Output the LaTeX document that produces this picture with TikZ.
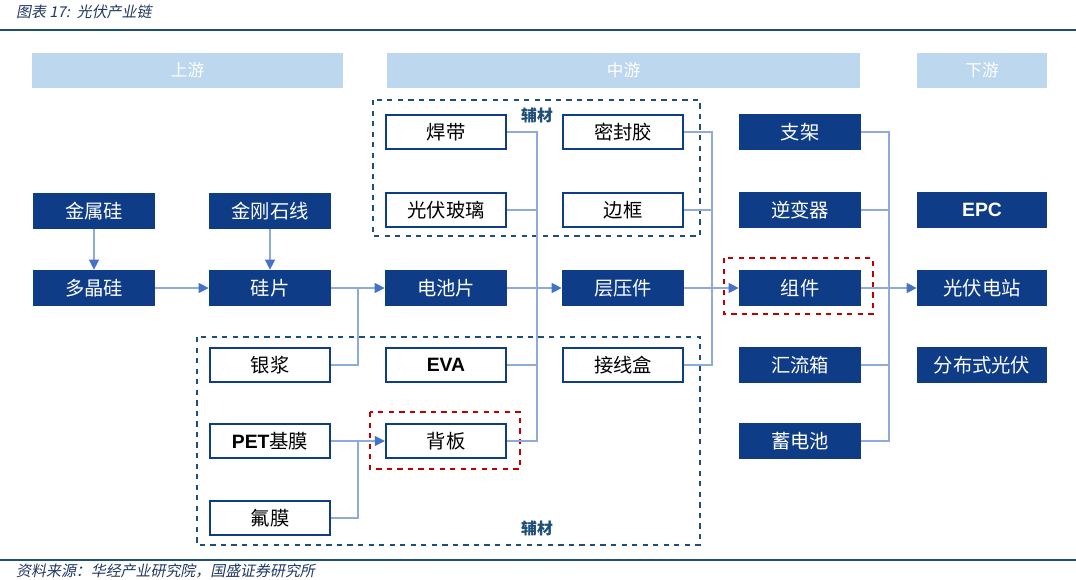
\documentclass[tikz,border=0pt]{standalone}
\usepackage{fontspec}
\setmainfont{Liberation Sans}
\newfontfamily\lat{Liberation Sans}
\newfontfamily\cjk{Noto Sans CJK SC}
\newfontfamily\cjkit{Noto Sans CJK SC}[FakeSlant=0.2]
\usetikzlibrary{arrows.meta}
\definecolor{boxblue}{RGB}{15,60,135}
\definecolor{barblue}{RGB}{189,215,238}
\definecolor{linegray}{RGB}{143,170,220}
\definecolor{tipblue}{RGB}{68,114,196}
\definecolor{dashblue}{RGB}{31,78,121}
\definecolor{dashred}{RGB}{192,0,0}
\definecolor{titleblue}{RGB}{31,56,100}
\begin{document}
\begin{tikzpicture}[x=0.02cm, y=-0.02cm,
    fillbox/.style={fill=boxblue, text=white, minimum width=2.44cm, minimum height=0.72cm, inner sep=0pt, font=\cjk\fontsize{11}{11}\selectfont},
    linebox/.style={draw=boxblue, line width=1.4pt, fill=white, text=black, minimum width=2.4cm, minimum height=0.68cm, inner sep=0pt, font=\cjk\fontsize{11}{11}\selectfont},
    headbar/.style={fill=barblue, text=white, minimum height=0.7cm, inner sep=0pt, font=\cjk\fontsize{9.5}{9.5}\selectfont},
    conn/.style={draw=linegray, line width=0.6pt},
    arr/.style={conn, -{Triangle[length=2mm,width=2mm,color=tipblue]}},
    bluedash/.style={draw=dashblue, dashed, line width=0.8pt},
    reddash/.style={draw=dashred, dashed, line width=0.8pt}]
    \useasboundingbox (0,0) rectangle (1076,579);

    \node[anchor=west, text=titleblue, font=\cjkit\fontsize{8.5}{8.5}\selectfont] (title) at (10,12) {图表 17:\ \ 光伏产业链};
    \draw[dashblue, line width=1.4pt] (0,30) -- (1076,30);
    \draw[dashblue, line width=1.4pt] (0,560) -- (1076,560);
    \node[anchor=west, text=titleblue, font=\cjkit\fontsize{8.5}{8.5}\selectfont] (source) at (10,571) {资料来源：华经产业研究院，国盛证券研究所};

    \node[headbar, minimum width=6.22cm] (up) at (187.5,70) {上游};
    \node[headbar, minimum width=9.46cm] (mid) at (623.5,70) {中游};
    \node[headbar, minimum width=2.6cm] (down) at (982,70) {下游};

    \draw[bluedash] (373,100) rectangle (700,236);
    \node[text=dashblue, font=\cjk\fontsize{9}{9}\selectfont\bfseries] (fc1) at (537,115) {辅材};
    \draw[bluedash] (197,337) rectangle (700,545);
    \node[text=dashblue, font=\cjk\fontsize{9}{9}\selectfont\bfseries] (fc2) at (537,528) {辅材};
    \draw[reddash] (724,258) rectangle (873,314);
    \draw[reddash] (370,412) rectangle (520,469);

    \node[fillbox] (jinshugui) at (94,211) {金属硅};
    \node[fillbox] (duojinggui) at (94,288) {多晶硅};
    \node[fillbox] (jingangshi) at (270,211) {金刚石线};
    \node[fillbox] (guipian) at (270,288) {硅片};
    \node[linebox] (yinjiang) at (270,365) {银浆};
    \node[linebox] (pet) at (270,441) {{\lat\bfseries PET}基膜};
    \node[linebox] (fumo) at (270,518) {氟膜};

    \node[linebox] (handai) at (446,132) {焊带};
    \node[linebox] (boli) at (446,210) {光伏玻璃};
    \node[fillbox] (dianchi) at (446,288) {电池片};
    \node[linebox] (eva) at (446,365) {\lat\bfseries EVA};
    \node[linebox] (beiban) at (446,441) {背板};

    \node[linebox] (mifeng) at (623,132) {密封胶};
    \node[linebox] (biankuang) at (623,210) {边框};
    \node[fillbox] (cengya) at (623,288) {层压件};
    \node[linebox] (jiexian) at (623,365) {接线盒};

    \node[fillbox] (zhijia) at (800,132) {支架};
    \node[fillbox] (nibian) at (800,210) {逆变器};
    \node[fillbox] (zujian) at (800,288) {组件};
    \node[fillbox] (huiliu) at (800,365) {汇流箱};
    \node[fillbox] (xudian) at (800,441) {蓄电池};

    \node[fillbox, minimum width=2.6cm] (epc) at (982,210) {\lat\bfseries EPC};
    \node[fillbox, minimum width=2.6cm] (dianzhan) at (982,288) {光伏电站};
    \node[fillbox, minimum width=2.6cm] (fenbu) at (982,365) {分布式光伏};

    \coordinate (j1) at (358,288);
    \coordinate (j2) at (358,441);
    \coordinate (j3t) at (537,132);
    \coordinate (j3b) at (537,441);
    \coordinate (j4t) at (712,132);
    \coordinate (j4b) at (712,365);
    \coordinate (j5t) at (889,132);
    \coordinate (j5b) at (889,441);

    \draw[arr] (jinshugui) -- (duojinggui);
    \draw[arr] (jingangshi) -- (guipian);
    \draw[arr] (duojinggui) -- (guipian);
    \draw[arr] (guipian) -- (dianchi);
    \draw[conn] (yinjiang.east) -| (j1);
    \draw[arr] (pet) -- (beiban);
    \draw[conn] (fumo.east) -| (j2);

    \draw[conn] (handai.east) -- (j3t) -- (j3b) -- (beiban.east);
    \draw[conn] (boli.east) -- (boli.east -| j3t);
    \draw[conn] (eva.east) -- (eva.east -| j3t);
    \draw[arr] (dianchi) -- (cengya);

    \draw[conn] (mifeng.east) -- (j4t) -- (j4b) -- (jiexian.east);
    \draw[conn] (biankuang.east) -- (biankuang.east -| j4t);
    \draw[arr] (cengya) -- (zujian);

    \draw[conn] (zhijia.east) -- (j5t) -- (j5b) -- (xudian.east);
    \draw[conn] (nibian.east) -- (nibian.east -| j5t);
    \draw[conn] (huiliu.east) -- (huiliu.east -| j5t);
    \draw[arr] (zujian) -- (dianzhan);
\end{tikzpicture}
\end{document}
